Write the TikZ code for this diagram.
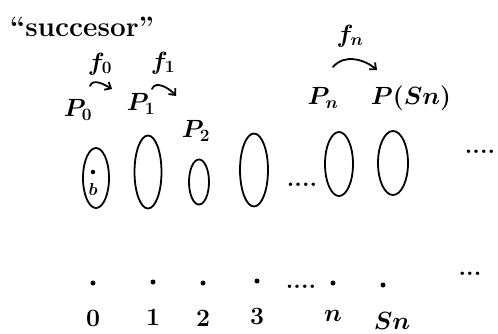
\documentclass[tikz,border=0pt]{standalone}
\usepackage{amsmath,amssymb}
\usepackage{tikz}
\usetikzlibrary{arrows.meta,positioning,shapes.geometric}

\begin{document}
\begin{tikzpicture}[x=1pt, y=-1pt, font=\fontsize{27}{30}\selectfont\boldmath, >={Straight Barb[length=5pt,width=9pt]},
  line width=1.8pt, line cap=round, node distance=22pt,
  blob/.style={draw, ellipse, inner sep=0pt, line width=1.8pt},
  pt/.style={circle, fill, inner sep=0pt, minimum size=5pt},
  lab/.style={inner sep=1pt},
  dts/.style={inner sep=0pt, anchor=base, font=\fontsize{24}{26}\selectfont\bfseries},
  sml/.style={font=\fontsize{18}{18}\selectfont\boldmath, inner sep=1pt}]
\useasboundingbox (0,0) rectangle (498,333);
\node[lab, font=\fontsize{28}{30}\selectfont\bfseries] (title) at (82,27) {``succesor''};
% sets
\node[blob, minimum width=26pt, minimum height=60pt] (s0) at (96,178) {};
\node[blob, minimum width=27pt, minimum height=73pt] (s1) at (148,172) {};
\node[blob, minimum width=20pt, minimum height=45pt] (s2) at (199,182) {};
\node[blob, minimum width=28pt, minimum height=73pt] (s3) at (254,170) {};
\node[dts] (gapA) at (302,186) {....};
\node[blob, minimum width=28pt, minimum height=64pt] (sn) at (339,164) {};
\node[blob, minimum width=30pt, minimum height=64pt] (ssn) at (393,163) {};
\node[dts] (moreA) at (480,153) {....};
\node[pt, minimum size=4.5pt] (b) at (93,172) {};
\node[sml, below=6pt of b] (blab) {$b$};
% names of sets
\node[lab] (P0) at (78,110) {$P_0$};
\node[lab] (P1) at (141,104) {$P_1$};
\node[lab] (P2) at (196,131) {$P_2$};
\node[lab] (Pn) at (323,98) {$P_n$};
\node[lab] (Psn) at (411,98) {$P(Sn)$};
% successor maps
\coordinate (a0) at (90,86);
\coordinate (e0) at (112,89);
\draw[->] (a0) to[out=70, in=150] (e0);
\node[lab] (f0) at (100,64) {$f_0$};
\coordinate (a1) at (152,89);
\coordinate (e1) at (176,96);
\draw[->] (a1) to[out=70, in=130] (e1);
\node[lab] (f1) at (163,63) {$f_1$};
\coordinate (an) at (333,67);
\coordinate (en) at (377,70);
\draw[->] (an) to[out=50, in=140] (en);
\node[lab] (fn) at (350,36) {$f_n$};
% naturals
\node[pt] (n0) at (93,283) {};
\node[pt] (n1) at (153,282) {};
\node[pt] (n2) at (203,283) {};
\node[pt] (n3) at (257,281) {};
\node[dts] (gapB) at (301,288) {....};
\node[pt] (nn) at (333,283) {};
\node[pt] (nsn) at (383,285) {};
\node[dts] (moreB) at (470,275) {...};
\node[lab, below=of n0] (l0) {$0$};
\node[lab, below=of n1] (l1) {$1$};
\node[lab, below=of n2] (l2) {$2$};
\node[lab, below=of n3] (l3) {$3$};
\node[lab, below=of nn] (ln) {$n$};
\node[lab, below=of nsn, xshift=9pt] (lsn) {$Sn$};
\end{tikzpicture}
\end{document}
